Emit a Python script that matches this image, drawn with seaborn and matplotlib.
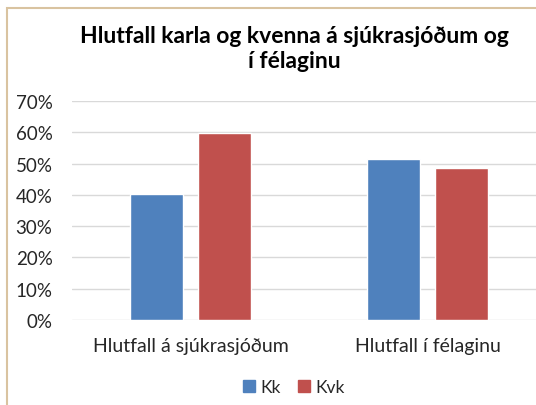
import matplotlib
matplotlib.use("Agg")
import matplotlib.pyplot as plt
import matplotlib.patches as mpatches
import pandas as pd
import seaborn as sns

# datos
categorias = ["Hlutfall á sjúkrasjóðum", "Hlutfall í félaginu"]
kk = [0.402, 0.515]
kvk = [0.598, 0.485]
series = ["Kk", "Kvk"]
colores = ["#4F81BD", "#C0504D"]
yticks = [0, 0.1, 0.2, 0.3, 0.4, 0.5, 0.6, 0.7]
titulo = "Hlutfall karla og kvenna á sjúkrasjóðum og\ní félaginu"

df = pd.DataFrame({
    "Flokkur": categorias * 2,
    "Hlutfall": kk + kvk,
    "Kyn": [series[0]] * len(categorias) + [series[1]] * len(categorias),
})

sns.set_style("white")
plt.rcParams["font.family"] = ["Lato", "DejaVu Sans"]

fig = plt.figure(figsize=(5.36, 4.06), dpi=100)
ax = fig.add_axes([72 / 536, 1 - 321 / 406, 474 / 536, 219 / 406])

sns.barplot(data=df, x="Flokkur", y="Hlutfall", hue="Kyn", palette=colores,
            width=0.566, gap=0.21, ax=ax, legend=False, saturation=1)

ax.set_ylim(0, 0.7)
ax.set_xlim(-0.5, 1.5)
ax.set_yticks(yticks)
ax.set_yticklabels([f"{int(round(t * 100))}%" for t in yticks])
ax.set_xlabel("")
ax.set_ylabel("")
ax.yaxis.grid(True, color="#D9D9D9", linewidth=1)
ax.set_axisbelow(True)
for s in ax.spines.values():
    s.set_visible(False)
ax.tick_params(axis="y", length=0, pad=14, labelsize=13.5, labelcolor="#262626")
ax.tick_params(axis="x", length=0, pad=12, labelsize=14, labelcolor="#262626")

# titulo
fig.text(294 / 536, 1 - 49 / 406, titulo, ha="center", va="center",
         fontsize=16.5, fontweight="bold", linespacing=1.25, color="#000000")

# leyenda
handles = [mpatches.Patch(color=c, label=l) for c, l in zip(colores, series)]
fig.legend(handles=handles, loc="center", bbox_to_anchor=(294 / 536, 1 - 388 / 406),
           ncol=2, frameon=False, fontsize=12.5, handlelength=0.7, handleheight=0.7,
           handletextpad=0.3, columnspacing=1.0, labelcolor="#262626")

# borde del area del grafico
borde = mpatches.Rectangle((7 / 536, -0.1), 1.2, 1.1 - 9 / 406, transform=fig.transFigure,
                           fill=False, edgecolor="#D9C3A0", linewidth=1.5)
fig.patches.append(borde)

fig.savefig("out.png", dpi=100)
